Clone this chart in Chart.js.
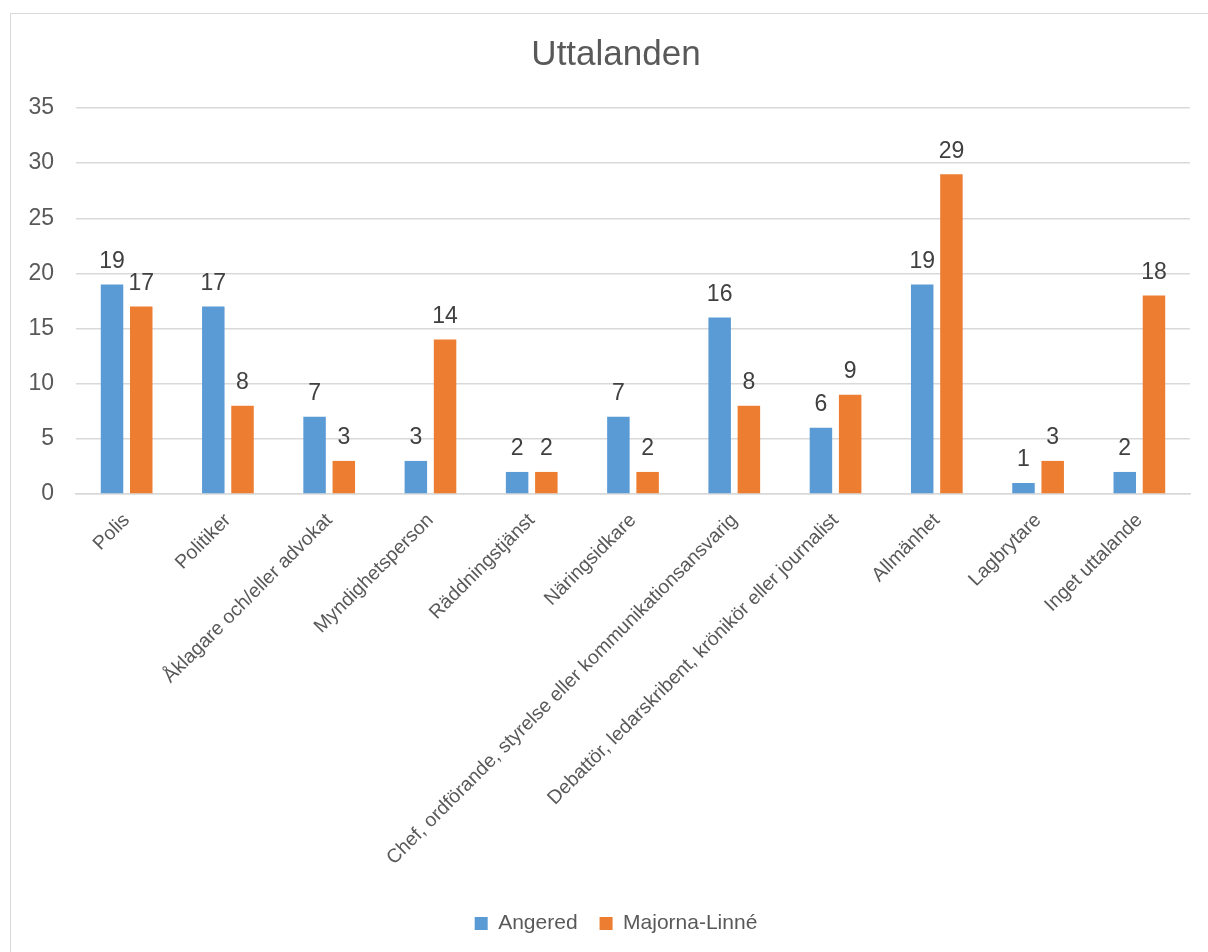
<!DOCTYPE html>
<html>
<head>
<meta charset="utf-8">
<title>Uttalanden</title>
<script src="https://cdn.jsdelivr.net/npm/chart.js@4"></script>
<style>
    body { margin: 0; background: #fff; overflow: hidden; }
    #wrap { position: relative; width: 1208px; height: 952px; overflow: hidden; }
    #frame { position: absolute; left: 10px; top: 13px; width: 1300px; height: 1000px; border: 1px solid #d9d9d9; }
    #myChart { position: absolute; left: 0; top: 0; }
</style>
</head>
<body>
<div id="wrap">
    <div id="frame"></div>
    <canvas id="myChart" width="1232" height="955"></canvas>
</div>
<script>
// Chart data
const categories = [
    'Polis',
    'Politiker',
    'Åklagare och/eller advokat',
    'Myndighetsperson',
    'Räddningstjänst',
    'Näringsidkare',
    'Chef, ordförande, styrelse eller kommunikationsansvarig',
    'Debattör, ledarskribent, krönikör eller journalist',
    'Allmänhet',
    'Lagbrytare',
    'Inget uttalande'
];
const angered = [19, 17, 7, 3, 2, 7, 16, 6, 19, 1, 2];
const majornaLinne = [17, 8, 3, 14, 2, 2, 8, 9, 29, 3, 18];
const yTicks = [0, 5, 10, 15, 20, 25, 30, 35];

const FONT = "'Liberation Sans', Arial, sans-serif";

// Draws the value above each bar, like Excel data labels
const valueLabels = {
    id: 'valueLabels',
    afterDatasetsDraw(chart) {
        const ctx = chart.ctx;
        ctx.save();
        ctx.font = '23px ' + FONT;
        ctx.fillStyle = '#404040';
        ctx.textAlign = 'center';
        ctx.textBaseline = 'middle';
        chart.data.datasets.forEach(function(ds, i) {
            chart.getDatasetMeta(i).data.forEach(function(bar, j) {
                ctx.fillText(ds.data[j], bar.x, bar.y - 23);
            });
        });
        ctx.restore();
    }
};

const data = {
    labels: categories,
    datasets: [
        {
            label: 'Angered',
            backgroundColor: '#5B9BD5',
            data: angered
        },
        {
            label: 'Majorna-Linné',
            backgroundColor: '#ED7D31',
            data: majornaLinne
        }
    ]
};

const config = {
    type: 'bar',
    data: data,
    options: {
        responsive: false,
        animation: false,
        categoryPercentage: 0.577,
        barPercentage: 0.77,
        layout: {
            padding: { left: 0, right: 0, top: 0, bottom: 11 }
        },
        plugins: {
            title: {
                display: true,
                text: 'Uttalanden',
                color: '#595959',
                font: { family: FONT, size: 35, weight: 'normal' },
                padding: { top: 34, bottom: 32 }
            },
            legend: {
                position: 'bottom',
                labels: {
                    color: '#595959',
                    font: { family: FONT, size: 21 },
                    boxWidth: 13,
                    boxHeight: 13,
                    padding: 22
                }
            },
            tooltip: { enabled: false }
        },
        scales: {
            x: {
                grid: { display: false },
                border: { color: '#d9d9d9', width: 1.5 },
                ticks: {
                    color: '#595959',
                    font: { family: FONT, size: 19.5 },
                    minRotation: 45,
                    maxRotation: 45,
                    autoSkip: false,
                    padding: 7
                },
                afterFit: function(scale) { scale.height = 397; }
            },
            y: {
                min: 0,
                max: 35,
                border: { display: false },
                grid: { color: '#d9d9d9', lineWidth: 1.5, drawTicks: false },
                afterBuildTicks: function(scale) {
                    scale.ticks = yTicks.map(function(v) { return { value: v }; });
                },
                ticks: {
                    color: '#595959',
                    font: { family: FONT, size: 23 },
                    padding: 22
                },
                afterFit: function(scale) { scale.width = 76; }
            },
            // empty axis on the right, keeps the plot narrower than the frame
            spacer: {
                position: 'right',
                grid: { display: false },
                border: { display: false },
                ticks: { display: false },
                afterFit: function(scale) { scale.width = 42; }
            }
        }
    },
    plugins: [valueLabels]
};

// Render the chart
const myChart = new Chart(
    document.getElementById('myChart'),
    config
);
</script>
</body>
</html>
